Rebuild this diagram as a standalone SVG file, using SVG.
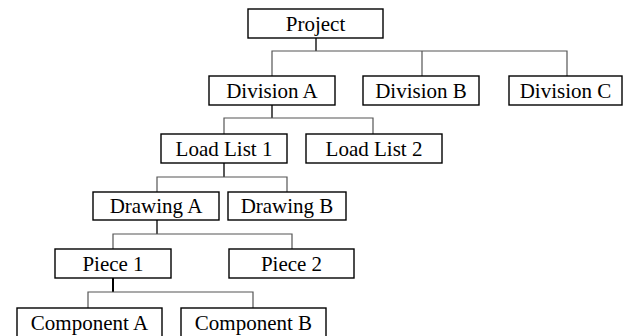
<svg xmlns="http://www.w3.org/2000/svg" width="630" height="336" viewBox="0 0 630 336">
<style>
.box rect{fill:#fff;stroke:#000;stroke-width:1.4}
.box text{font-family:"Liberation Serif","Times New Roman",serif;font-size:21px;fill:#000;text-anchor:middle}
.stem{stroke:#111;stroke-width:1.4;fill:none}
.bus{stroke:#555;stroke-width:1.2;fill:none}
</style>
<rect width="630" height="336" fill="#fff"/>
<g id="connectors">
<path class="stem" d="M316 38V51"/>
<path class="bus" d="M272 76V51H567V76M422 51V76"/>
<path class="stem" d="M272 105V118"/>
<path class="bus" d="M224 134V118H373V134"/>
<path class="stem" d="M224 163V177"/>
<path class="bus" d="M157 192V177H287V192"/>
<path class="stem" d="M157 220V234"/>
<path class="bus" d="M113 249V234H292V249"/>
<path class="stem" d="M113 278V292" style="stroke:#000;stroke-width:2"/>
<path class="bus" d="M88 308V292H253V308"/>
</g>
<g id="project" class="box"><rect x="248" y="9" width="135" height="29"/><text x="315.5" y="30.5">Project</text></g>
<g id="divisionA" class="box"><rect x="209" y="76" width="126" height="29"/><text x="272" y="97.5">Division A</text></g>
<g id="divisionB" class="box"><rect x="363" y="76" width="116" height="29"/><text x="421" y="97.5">Division B</text></g>
<g id="divisionC" class="box"><rect x="509" y="76" width="113" height="29"/><text x="565.5" y="97.5">Division C</text></g>
<g id="loadList1" class="box"><rect x="161" y="134" width="126" height="29"/><text x="224" y="155.5">Load List 1</text></g>
<g id="loadList2" class="box"><rect x="306" y="134" width="136" height="29"/><text x="374" y="155.5">Load List 2</text></g>
<g id="drawingA" class="box"><rect x="93" y="192" width="126" height="28"/><text x="156" y="213">Drawing A</text></g>
<g id="drawingB" class="box"><rect x="228" y="192" width="118" height="28"/><text x="287" y="213">Drawing B</text></g>
<g id="piece1" class="box"><rect x="55" y="249" width="116" height="29"/><text x="113" y="270.5">Piece 1</text></g>
<g id="piece2" class="box"><rect x="229" y="249" width="125" height="29"/><text x="291.5" y="270.5">Piece 2</text></g>
<g id="componentA" class="box"><rect x="17" y="308" width="145" height="32"/><text x="89.5" y="329.5">Component A</text></g>
<g id="componentB" class="box"><rect x="181" y="308" width="145" height="32"/><text x="253.5" y="329.5">Component B</text></g>
</svg>
